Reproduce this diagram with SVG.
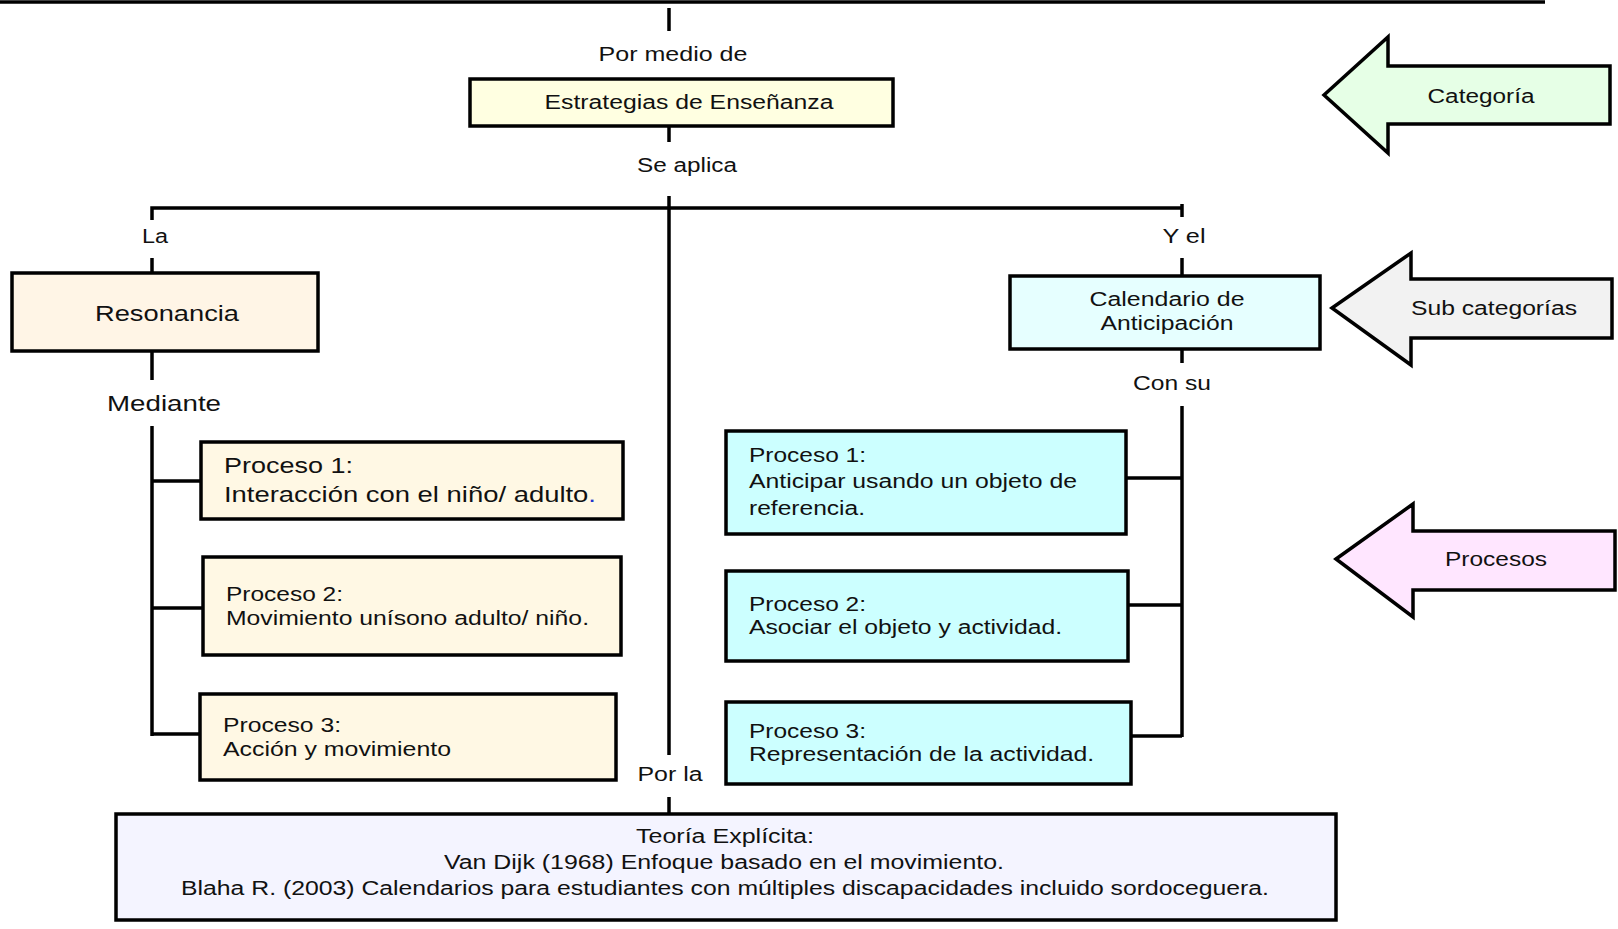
<svg xmlns="http://www.w3.org/2000/svg" width="1618" height="929" viewBox="0 0 1618 929">
<style>
text{font-family:"Liberation Sans",Arial,sans-serif;font-size:20px;fill:#111}
.c{text-anchor:middle}
.big{font-size:22.5px}
.box{stroke:#000;stroke-width:3.5}
.ln{stroke:#000;stroke-width:3.5;fill:none}
</style>
<rect width="1618" height="929" fill="#fff"/>
<g id="connectors" class="ln">
<path d="M0 2H1545"/>
<path d="M669 8V31"/>
<path d="M669 126V142"/>
<path d="M669 196V755"/>
<path d="M152 220V208H1182"/>
<path d="M1182 204V217"/>
<path d="M152 258V273"/>
<path d="M152 351V380"/>
<path d="M152 426V736"/>
<path d="M152 481H201M152 608H203M152 734H200"/>
<path d="M669 797V815"/>
<path d="M1182 258V276"/>
<path d="M1182 349V363"/>
<path d="M1182 406V737"/>
<path d="M1126 478H1182M1128 605H1182M1131 736H1182"/>
</g>
<g id="labels">
<text class="c" x="673" y="61" textLength="149" lengthAdjust="spacingAndGlyphs">Por medio de</text>
<text class="c" x="687" y="172" textLength="100" lengthAdjust="spacingAndGlyphs">Se aplica</text>
<text class="c" x="155" y="243" textLength="26" lengthAdjust="spacingAndGlyphs">La</text>
<text class="c big" x="164" y="411" textLength="114" lengthAdjust="spacingAndGlyphs">Mediante</text>
<text class="c" x="1184" y="243" textLength="43" lengthAdjust="spacingAndGlyphs">Y el</text>
<text class="c" x="1172" y="390" textLength="78" lengthAdjust="spacingAndGlyphs">Con su</text>
<text class="c" x="670" y="781" textLength="65" lengthAdjust="spacingAndGlyphs">Por la</text>
</g>
<g id="estrategias">
<rect class="box" x="470" y="79" width="423" height="47" fill="#FFFFE1"/>
<text class="c" x="689" y="109" textLength="289" lengthAdjust="spacingAndGlyphs">Estrategias de Enseñanza</text>
</g>
<g id="resonancia">
<rect class="box" x="12" y="273" width="306" height="78" fill="#FFF5E6"/>
<text class="c big" x="167" y="321" textLength="144" lengthAdjust="spacingAndGlyphs">Resonancia</text>
</g>
<g id="res-p1">
<rect class="box" x="201" y="442" width="422" height="77" fill="#FFF8E4"/>
<text class="big" x="224" y="473" textLength="129" lengthAdjust="spacingAndGlyphs">Proceso 1:</text>
<text class="big" x="224" y="502" textLength="372" lengthAdjust="spacingAndGlyphs">Interacción con el niño/ adulto<tspan fill="#2233cc">.</tspan></text>
</g>
<g id="res-p2">
<rect class="box" x="203" y="557" width="418" height="98" fill="#FFF8E4"/>
<text x="226" y="601" textLength="117" lengthAdjust="spacingAndGlyphs">Proceso 2:</text>
<text x="226" y="625" textLength="363" lengthAdjust="spacingAndGlyphs">Movimiento unísono adulto/ niño.</text>
</g>
<g id="res-p3">
<rect class="box" x="200" y="694" width="416" height="86" fill="#FFF8E4"/>
<text x="223" y="732" textLength="118" lengthAdjust="spacingAndGlyphs">Proceso 3:</text>
<text x="223" y="756" textLength="228" lengthAdjust="spacingAndGlyphs">Acción y movimiento</text>
</g>
<g id="calendario">
<rect class="box" x="1010" y="276" width="310" height="73" fill="#E6FFFF"/>
<text class="c" x="1167" y="306" textLength="155" lengthAdjust="spacingAndGlyphs">Calendario de</text>
<text class="c" x="1167" y="330" textLength="133" lengthAdjust="spacingAndGlyphs">Anticipación</text>
</g>
<g id="cal-p1">
<rect class="box" x="726" y="431" width="400" height="103" fill="#CCFFFF"/>
<text x="749" y="462" textLength="117" lengthAdjust="spacingAndGlyphs">Proceso 1:</text>
<text x="749" y="488" textLength="328" lengthAdjust="spacingAndGlyphs">Anticipar usando un objeto de</text>
<text x="749" y="515" textLength="116" lengthAdjust="spacingAndGlyphs">referencia.</text>
</g>
<g id="cal-p2">
<rect class="box" x="726" y="571" width="402" height="90" fill="#CCFFFF"/>
<text x="749" y="611" textLength="117" lengthAdjust="spacingAndGlyphs">Proceso 2:</text>
<text x="749" y="634" textLength="313" lengthAdjust="spacingAndGlyphs">Asociar el objeto y actividad.</text>
</g>
<g id="cal-p3">
<rect class="box" x="726" y="702" width="405" height="82" fill="#CCFFFF"/>
<text x="749" y="738" textLength="117" lengthAdjust="spacingAndGlyphs">Proceso 3:</text>
<text x="749" y="761" textLength="345" lengthAdjust="spacingAndGlyphs">Representación de la actividad.</text>
</g>
<g id="teoria">
<rect class="box" x="116" y="814" width="1220" height="106" fill="#F4F4FF"/>
<text class="c" x="725" y="843" textLength="178" lengthAdjust="spacingAndGlyphs">Teoría Explícita:</text>
<text class="c" x="724" y="869" textLength="560" lengthAdjust="spacingAndGlyphs">Van Dijk (1968) Enfoque basado en el movimiento.</text>
<text class="c" x="725" y="895" textLength="1088" lengthAdjust="spacingAndGlyphs">Blaha R. (2003) Calendarios para estudiantes con múltiples discapacidades incluido sordoceguera.</text>
</g>
<g id="arrow-categoria">
<polygon class="box" points="1324,95 1388,37 1388,66 1610,66 1610,124 1388,124 1388,153" fill="#E6FFE6"/>
<text class="c" x="1481" y="103" textLength="107" lengthAdjust="spacingAndGlyphs">Categoría</text>
</g>
<g id="arrow-subcategorias">
<polygon class="box" points="1332,308 1411,253 1411,279 1612,279 1612,338 1411,338 1411,365" fill="#F2F2F2"/>
<text class="c" x="1494" y="315" textLength="166" lengthAdjust="spacingAndGlyphs">Sub categorías</text>
</g>
<g id="arrow-procesos">
<polygon class="box" points="1336,559 1413,504 1413,531 1615,531 1615,590 1413,590 1413,617" fill="#FFE6FF"/>
<text class="c" x="1496" y="566" textLength="102" lengthAdjust="spacingAndGlyphs">Procesos</text>
</g>
</svg>
